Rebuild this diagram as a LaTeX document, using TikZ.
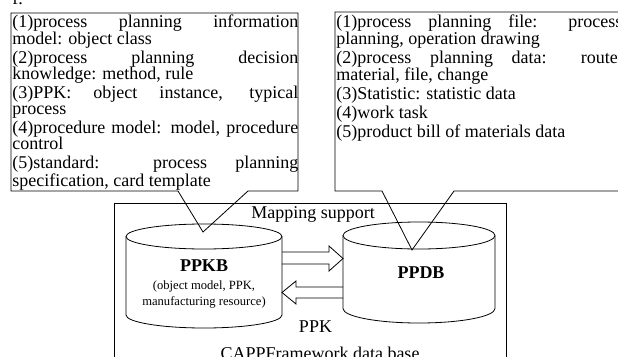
\documentclass[tikz,border=0pt]{standalone}
\usepackage{fontspec}
\setmainfont{Liberation Serif}
\newcommand\myboxsetup{\setlength{\parskip}{2.2pt}\hyphenpenalty=10000\relax\tolerance=10000\relax}
\begin{document}
\begin{tikzpicture}[x=1pt,y=-1pt,line width=0.8pt,line join=miter,
  boxtext/.style={anchor=north west,inner sep=0pt,text width=286pt,align=justify,
    font=\fontsize{18}{16.5}\selectfont},
  lbl/.style={anchor=base,inner sep=0pt,font=\fontsize{18}{18}\selectfont},
  bold/.style={anchor=base,inner sep=0pt,font=\fontsize{18}{18}\selectfont\bfseries},
  small/.style={anchor=base,inner sep=0pt,font=\fontsize{12.6}{14}\selectfont}]
\useasboundingbox (0,0) rectangle (618,356);
% cut-off text at top
\node[lbl,anchor=base west] (ftop) at (12,5) {f.};
% callout boxes
\draw (11,13) -- (298,13) -- (298,191) -- (248,191) -- (203,232) -- (178,191) -- (11,191) -- cycle;
\draw (335,12) -- (626,12) -- (626,191) -- (454,191) -- (412,250) -- (382,191) -- (335,191) -- cycle;
\node[boxtext] (lefttext) at (12,14.8) {\myboxsetup(1)process planning information\linebreak model: object class\par
(2)process planning decision\linebreak knowledge: method, rule\par
(3)PPK: object instance, typical\linebreak process\par
(4)procedure model: model, procedure\linebreak control\par
(5)standard: process planning\linebreak specification, card template};
\node[boxtext] (righttext) at (336,14.8) {\myboxsetup(1)process planning file: process\linebreak planning, operation drawing\par
(2)process planning data: route,\linebreak material, file, change\par
(3)Statistic: statistic data\par
(4)work task\par
(5)product bill of materials data};
% main frame
\draw (114,203) rectangle (506,370);
\node[lbl] (mapping) at (313,218.5) {Mapping support};
\node[lbl] (ppk) at (315.5,332) {PPK};
\node[lbl] (capp) at (320,359.5) {CAPPFramework data base};
% left cylinder
\coordinate (kbTL) at (126,236.5);
\coordinate (kbTR) at (282,236.5);
\draw (204,236.5) ellipse [x radius=78, y radius=12.5];
\draw (kbTL) -- (126,315) arc[start angle=180,end angle=360,x radius=78,y radius=-13] -- (kbTR);
% right cylinder
\coordinate (dbTL) at (343,235.5);
\coordinate (dbTR) at (495,235.5);
\draw (419,235.5) ellipse [x radius=76, y radius=13.5];
\draw (dbTL) -- (343,308.5) arc[start angle=180,end angle=360,x radius=76,y radius=-14.5] -- (dbTR);
\node[bold] (ppkb) at (204,271.7) {PPKB};
\node[small] (ppkb1) at (204,289) {(object model, PPK,};
\node[small] (ppkb2) at (204,305) {manufacturing resource)};
\node[bold] (ppdb) at (421,278.3) {PPDB};
% block arrows
\draw (282,252) -- (329,252) -- (329,246) -- (343,258.5) -- (329,271) -- (329,264) -- (282,264);
\draw (343,287) -- (296,287) -- (296,281) -- (282,292.5) -- (296,304) -- (296,298) -- (343,298);
\end{tikzpicture}
\end{document}
